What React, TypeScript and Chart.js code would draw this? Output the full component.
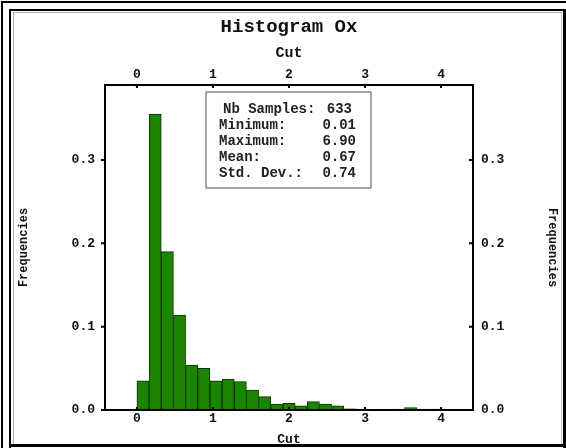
import React, { useEffect, useRef } from "react";
import { Chart, registerables } from "chart.js";

Chart.register(...registerables);

const chartTitle = "Histogram Ox";
const xTitle = "Cut";
const yTitle = "Frequencies";

const binStarts = [0, 0.16, 0.32, 0.48, 0.64, 0.8, 0.96, 1.12, 1.28, 1.44, 1.6, 1.76, 1.92, 2.08, 2.24, 2.4, 2.56, 2.72, 2.88, 3.04, 3.2, 3.36, 3.52, 3.68, 3.84, 4.0];
const frequencies = [0.035, 0.355, 0.19, 0.114, 0.054, 0.05, 0.035, 0.037, 0.034, 0.024, 0.016, 0.007, 0.008, 0.005, 0.01, 0.007, 0.005, 0.0015, 0.001, 0, 0, 0.001, 0.003, 0.001, 0.001, 0];
const binWidth = 0.16;

const xTicks = [0, 1, 2, 3, 4];
const yTicks = [0, 0.1, 0.2, 0.3];
const xRange = [-0.42, 4.42];
const yRange = [0, 0.39];

const statLabels = ["Nb Samples:", "Minimum:", "Maximum:", "Mean:", "Std. Dev.:"];
const statValues = ["633", "0.01", "6.90", "0.67", "0.74"];

const FONT = "'Liberation Mono', 'Courier New', monospace";
const INK = "#111";

const titlePlugin = {
  id: "histTitle",
  afterDraw(chart: any) {
    const { ctx, chartArea } = chart;
    ctx.save();
    ctx.font = `bold 19px ${FONT}`;
    ctx.fillStyle = INK;
    ctx.textAlign = "center";
    ctx.textBaseline = "middle";
    ctx.fillText(chartTitle, (chartArea.left + chartArea.right) / 2, 27);
    ctx.restore();
  },
};

const tickMarkPlugin = {
  id: "tickMarks",
  afterDatasetsDraw(chart: any) {
    const { ctx, chartArea, scales } = chart;
    ctx.save();
    ctx.strokeStyle = "#000";
    ctx.lineWidth = 2;
    ctx.beginPath();
    ctx.moveTo(chartArea.left, chartArea.bottom);
    ctx.lineTo(chartArea.right, chartArea.bottom);
    xTicks.forEach((v) => {
      const px = scales.x.getPixelForValue(v);
      ctx.moveTo(px, chartArea.bottom);
      ctx.lineTo(px, chartArea.bottom - 3);
      const px2 = scales.x2.getPixelForValue(v);
      ctx.moveTo(px2, chartArea.top);
      ctx.lineTo(px2, chartArea.top + 3);
    });
    yTicks.forEach((v) => {
      const py = scales.y.getPixelForValue(v);
      ctx.moveTo(chartArea.left, py);
      ctx.lineTo(chartArea.left - 4, py);
      const py2 = scales.y2.getPixelForValue(v);
      ctx.moveTo(chartArea.right, py2);
      ctx.lineTo(chartArea.right - 4, py2);
    });
    ctx.stroke();
    ctx.restore();
  },
};

const statsPlugin = {
  id: "statsBox",
  afterDatasetsDraw(chart: any) {
    const { ctx, chartArea } = chart;
    const bx = chartArea.left + 101;
    const by = chartArea.top + 7;
    const bw = 165;
    const bh = 96;
    ctx.save();
    ctx.fillStyle = "#fff";
    ctx.fillRect(bx, by, bw, bh);
    ctx.strokeStyle = "#8a8a8a";
    ctx.lineWidth = 1.5;
    ctx.strokeRect(bx, by, bw, bh);
    ctx.font = `bold 14px ${FONT}`;
    ctx.fillStyle = "#222";
    ctx.textBaseline = "middle";
    statLabels.forEach((label, i) => {
      const y = by + 17 + i * 16;
      ctx.textAlign = "left";
      ctx.fillText(label, i === 0 ? bx + 17 : bx + 13, y);
      ctx.textAlign = "right";
      ctx.fillText(statValues[i], i === 0 ? bx + bw - 19 : bx + bw - 15, y);
    });
    ctx.restore();
  },
};

function axisBase(extra: any) {
  return {
    grid: { display: true, drawOnChartArea: false, drawTicks: false },
    border: { display: true, color: "#000", width: 2 },
    ...extra,
  };
}

export default function App() {
  const canvasRef = useRef<HTMLCanvasElement | null>(null);

  useEffect(() => {
    if (!canvasRef.current) return;
    const data = binStarts.map((s, i) => ({ x: s + binWidth / 2, y: frequencies[i] }));
    const tickFont = { family: FONT, size: 13, weight: "bold" as const };
    const chart = new Chart(canvasRef.current, {
      type: "bar",
      data: {
        datasets: [
          {
            data,
            backgroundColor: "#1c8500",
            borderColor: "#0b3300",
            borderWidth: 1,
            barPercentage: 1,
            categoryPercentage: 1,
            xAxisID: "x",
            yAxisID: "y",
          } as any,
        ],
      },
      options: {
        animation: false,
        responsive: false,
        layout: { padding: { top: 37, left: 0, right: 0, bottom: 0 } },
        plugins: {
          legend: { display: false },
          title: { display: false },
          tooltip: { enabled: false },
        },
        scales: {
          x: axisBase({
            type: "linear",
            position: "bottom",
            min: xRange[0],
            max: xRange[1],
            offset: false,
            afterBuildTicks: (s: any) => {
              s.ticks = xTicks.map((v) => ({ value: v }));
            },
            afterFit: (s: any) => {
              s.height = 38;
            },
            ticks: { font: tickFont, color: INK, padding: 1, maxRotation: 0, autoSkip: false, callback: (v: any) => String(v) },
            title: { display: true, text: xTitle, font: { family: FONT, size: 13, weight: "bold" }, color: INK, padding: { top: 0, bottom: 0 } },
          }),
          x2: axisBase({
            type: "linear",
            position: "top",
            display: true,
            min: xRange[0],
            max: xRange[1],
            offset: false,
            afterBuildTicks: (s: any) => {
              s.ticks = xTicks.map((v) => ({ value: v }));
            },
            afterFit: (s: any) => {
              s.height = 48;
            },
            ticks: { font: tickFont, color: INK, padding: 2, maxRotation: 0, autoSkip: false, callback: (v: any) => String(v) },
            title: { display: true, text: xTitle, font: { family: FONT, size: 15, weight: "bold" }, color: INK, padding: { top: 7, bottom: 0 } },
          }),
          y: axisBase({
            type: "linear",
            position: "left",
            min: yRange[0],
            max: yRange[1],
            afterBuildTicks: (s: any) => {
              s.ticks = yTicks.map((v) => ({ value: v }));
            },
            afterFit: (s: any) => {
              s.width = 105;
            },
            ticks: { font: tickFont, color: INK, padding: 10, callback: (v: any) => Number(v).toFixed(1) },
            title: { display: true, text: yTitle, font: { family: FONT, size: 12, weight: "bold" }, color: INK, padding: { top: 17, bottom: 0 } },
          }),
          y2: axisBase({
            type: "linear",
            position: "right",
            display: true,
            min: yRange[0],
            max: yRange[1],
            afterBuildTicks: (s: any) => {
              s.ticks = yTicks.map((v) => ({ value: v }));
            },
            afterFit: (s: any) => {
              s.width = 93;
            },
            ticks: { font: tickFont, color: INK, padding: 8, callback: (v: any) => Number(v).toFixed(1) },
            title: { display: true, text: yTitle, font: { family: FONT, size: 12, weight: "bold" }, color: INK, padding: { top: 7, bottom: 0 } },
          }),
        },
      } as any,
      plugins: [titlePlugin, tickMarkPlugin, statsPlugin],
    });
    return () => chart.destroy();
  }, []);

  const line = (style: React.CSSProperties): React.CSSProperties => ({ position: "absolute", background: "#000", ...style });

  return (
    <div style={{ position: "fixed", left: 0, top: 0, width: 566, height: 448, background: "#fff", overflow: "hidden" }}>
      <canvas ref={canvasRef} width={566} height={448} style={{ position: "absolute", left: 0, top: 0, width: 566, height: 448 }} />
      <div style={line({ left: 1, top: 1, width: 2, height: 447 })} />
      <div style={line({ left: 1, top: 1, width: 565, height: 2 })} />
      <div style={line({ left: 9, top: 9, width: 2, height: 439 })} />
      <div style={line({ left: 9, top: 9, width: 557, height: 2 })} />
      <div style={line({ left: 563, top: 9, width: 3, height: 439 })} />
      <div style={line({ left: 9, top: 444, width: 557, height: 3 })} />
      <div style={line({ left: 13, top: 12, width: 1, height: 432, background: "#b0b0b0" })} />
      <div style={line({ left: 13, top: 12, width: 548, height: 1, background: "#b0b0b0" })} />
      <div style={line({ left: 561, top: 12, width: 1, height: 432, background: "#c8c8c8" })} />
    </div>
  );
}
